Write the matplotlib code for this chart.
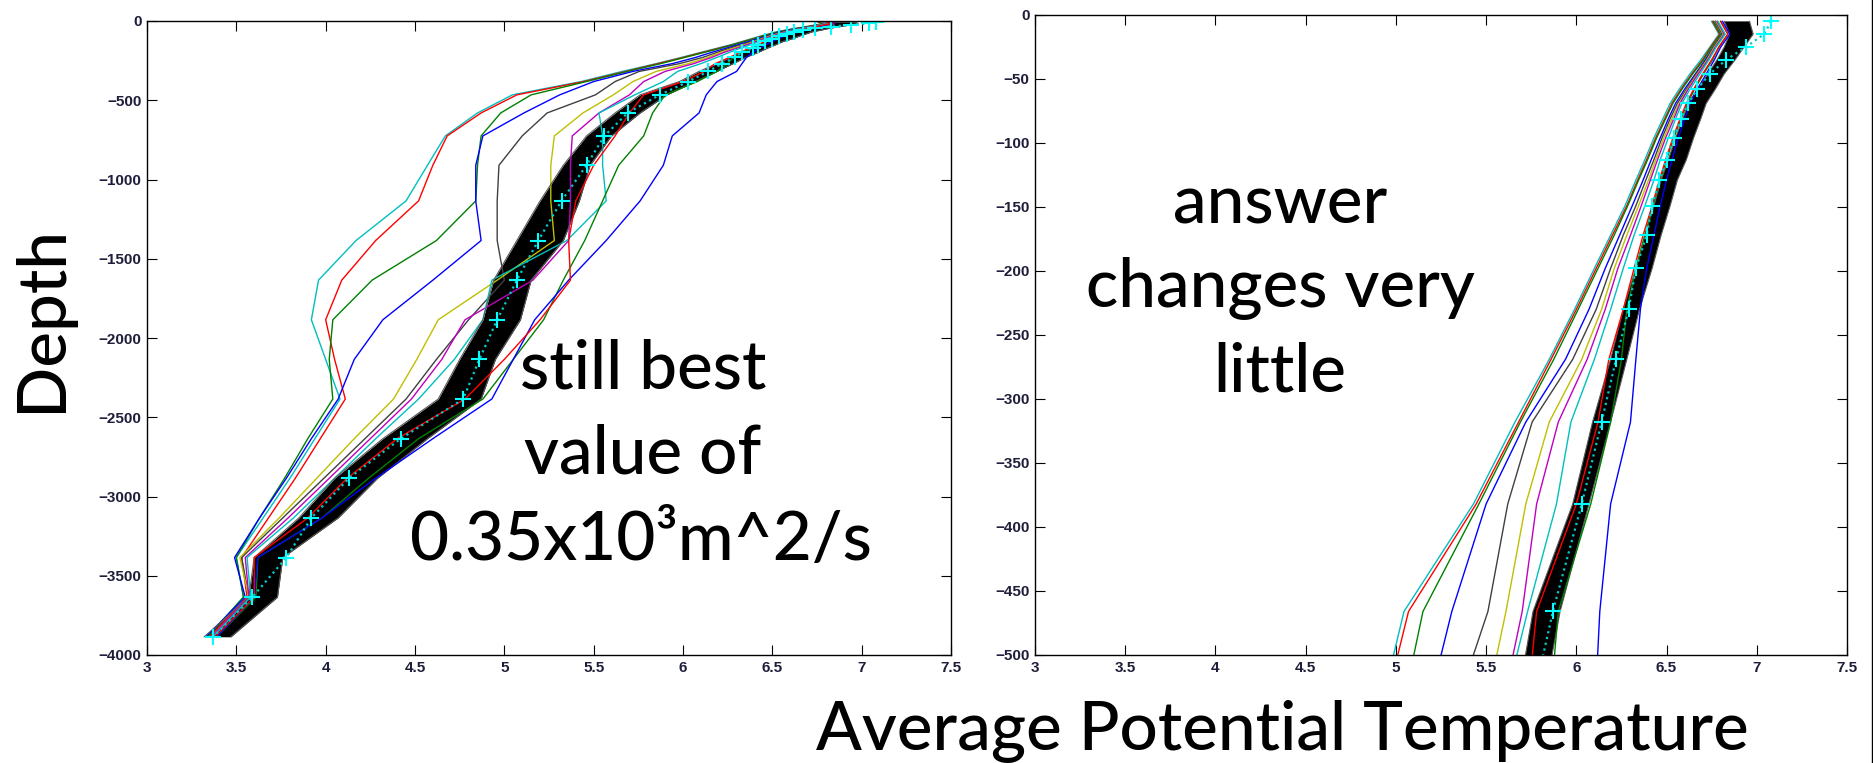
import numpy as np
import matplotlib
matplotlib.use('Agg')
import matplotlib.pyplot as plt
from matplotlib.lines import Line2D

# model levels (m, positive down)
depth = [5, 15, 25, 35, 46, 58, 69, 81, 96, 113, 129, 149, 172, 198, 230, 269, 318,
         382, 466, 580, 725, 910, 1135, 1385, 1635, 1885, 2135, 2385, 2635, 2885,
         3135, 3385, 3635, 3885]

# observed profile (cyan +)
obs = [7.08, 7.04, 6.94, 6.83, 6.74, 6.67, 6.62, 6.58, 6.54, 6.50, 6.46, 6.42, 6.39,
       6.33, 6.29, 6.22, 6.14, 6.03, 5.87, 5.69, 5.56, 5.46, 5.32, 5.19, 5.07, 4.96,
       4.86, 4.77, 4.42, 4.13, 3.92, 3.78, 3.59, 3.37]

# edges of the dense black ensemble
bundle_lo = [6.82, 6.85, 6.82, 6.78, 6.73, 6.67, 6.62, 6.59, 6.55, 6.51, 6.47, 6.43,
             6.38, 6.33, 6.26, 6.19, 6.09, 5.98, 5.76, 5.62, 5.46, 5.33, 5.20, 5.07,
             4.94, 4.88, 4.75, 4.63, 4.32, 4.05, 3.85, 3.60, 3.57, 3.32]
bundle_hi = [6.96, 6.98, 6.93, 6.88, 6.82, 6.77, 6.72, 6.69, 6.65, 6.61, 6.56, 6.52,
             6.47, 6.42, 6.35, 6.28, 6.19, 6.07, 5.91, 5.76, 5.60, 5.48, 5.42, 5.33,
             5.15, 5.09, 4.95, 4.87, 4.57, 4.29, 4.07, 3.76, 3.73, 3.47]

# individual coloured runs
cyan1 = [6.75, 6.79, 6.74, 6.69, 6.63, 6.57, 6.52, 6.48, 6.43, 6.38, 6.33, 6.27, 6.19,
         6.10, 5.99, 5.85, 5.66, 5.43, 5.045, 4.85, 4.67, 4.57, 4.45, 4.17, 3.96, 3.92,
         4.00, 4.08, 3.94, 3.80, 3.65, 3.50, 3.54, 3.34]
red1 = [6.755, 6.795, 6.745, 6.70, 6.64, 6.58, 6.53, 6.49, 6.44, 6.39, 6.34, 6.28, 6.20,
        6.11, 6.00, 5.86, 5.68, 5.445, 5.07, 4.87, 4.68, 4.60, 4.52, 4.28, 4.09, 4.00,
        4.05, 4.11, 3.97, 3.83, 3.68, 3.53, 3.56, 3.35]
green1 = [6.76, 6.80, 6.75, 6.705, 6.645, 6.585, 6.535, 6.495, 6.445, 6.395, 6.345,
          6.285, 6.21, 6.12, 6.01, 5.875, 5.69, 5.46, 5.15, 4.98, 4.87, 4.85, 4.84,
          4.62, 4.26, 4.04, 4.02, 4.04, 3.90, 3.77, 3.63, 3.50, 3.54, 3.34]
blue1 = [6.77, 6.81, 6.76, 6.715, 6.66, 6.60, 6.55, 6.51, 6.465, 6.415, 6.37, 6.31, 6.24,
         6.16, 6.07, 5.94, 5.72, 5.50, 5.31, 5.11, 4.88, 4.84, 4.84, 4.87, 4.60, 4.32,
         4.16, 4.07, 3.92, 3.78, 3.63, 3.49, 3.55, 3.33]
gray1 = [6.77, 6.81, 6.76, 6.72, 6.665, 6.61, 6.56, 6.52, 6.475, 6.43, 6.385, 6.33, 6.26,
         6.19, 6.11, 5.98, 5.755, 5.62, 5.51, 5.24, 5.10, 4.97, 4.96, 4.96, 5.00, 4.80,
         4.62, 4.45, 4.22, 3.99, 3.76, 3.53, 3.57, 3.36]
yellow1 = [6.775, 6.815, 6.765, 6.725, 6.67, 6.615, 6.57, 6.53, 6.485, 6.44, 6.40, 6.345,
           6.28, 6.21, 6.14, 6.03, 5.85, 5.72, 5.61, 5.44, 5.28, 5.26, 5.26, 5.28, 4.96,
           4.63, 4.51, 4.38, 4.16, 3.95, 3.74, 3.52, 3.57, 3.36]
magenta1 = [6.78, 6.82, 6.77, 6.73, 6.675, 6.62, 6.575, 6.54, 6.495, 6.45, 6.41, 6.36,
            6.30, 6.23, 6.16, 6.06, 5.90, 5.78, 5.70, 5.53, 5.38, 5.37, 5.37, 5.36, 5.16,
            4.78, 4.65, 4.48, 4.25, 4.02, 3.79, 3.55, 3.57, 3.36]
cyan2 = [6.785, 6.825, 6.775, 6.735, 6.685, 6.63, 6.585, 6.55, 6.51, 6.465, 6.43, 6.38,
         6.32, 6.26, 6.19, 6.10, 5.97, 5.89, 5.73, 5.53, 5.55, 5.55, 5.57, 5.35, 4.93,
         4.88, 4.72, 4.52, 4.28, 4.05, 3.82, 3.56, 3.58, 3.37]
red2 = [6.80, 6.84, 6.79, 6.75, 6.70, 6.65, 6.61, 6.575, 6.535, 6.495, 6.46, 6.42, 6.37,
        6.32, 6.26, 6.18, 6.12, 6.00, 5.78, 5.70, 5.62, 5.50, 5.40, 5.36, 5.37, 5.20,
        5.00, 4.78, 4.40, 4.12, 3.90, 3.60, 3.60, 3.38]
green2 = [6.80, 6.84, 6.79, 6.755, 6.705, 6.655, 6.615, 6.58, 6.54, 6.50, 6.465, 6.425,
          6.38, 6.33, 6.28, 6.25, 6.19, 6.08, 5.90, 5.83, 5.78, 5.64, 5.55, 5.45, 5.33,
          5.22, 5.05, 4.88, 4.52, 4.24, 3.98, 3.62, 3.61, 3.39]
blue2 = [6.81, 6.85, 6.80, 6.765, 6.72, 6.67, 6.63, 6.60, 6.565, 6.53, 6.50, 6.465, 6.43,
         6.39, 6.355, 6.33, 6.30, 6.19, 6.13, 6.09, 5.94, 5.89, 5.76, 5.57, 5.36, 5.17,
         5.05, 4.93, 4.60, 4.28, 3.98, 3.62, 3.60, 3.39]

C_B = (0, 0, 1)
C_G = (0, 0.5, 0)
C_R = (1, 0, 0)
C_C = (0, 0.75, 0.75)
C_M = (0.75, 0, 0.75)
C_Y = (0.75, 0.75, 0)
C_K = (0.25, 0.25, 0.25)

under = [(cyan1, C_C), (red1, C_R), (green1, C_G), (blue1, C_B), (gray1, C_K),
         (yellow1, C_Y), (magenta1, C_M), (cyan2, C_C)]
over = [(green2, C_G), (blue2, C_B), (red2, C_R)]

W, H = 1874, 763
fig = plt.figure(figsize=(W / 100, H / 100), dpi=100)


def box(x0, y0, x1, y1):
    return [x0 / W, 1 - y1 / H, (x1 - x0) / W, (y1 - y0) / H]


ax1 = fig.add_axes(box(147, 21, 951, 655))
ax2 = fig.add_axes(box(1035, 15, 1847, 655))

z = -np.array(depth)
for ax in (ax1, ax2):
    for vals, col in under:
        ax.plot(vals, z, color=col, lw=1.0)
    ax.fill_betweenx(z, bundle_lo, bundle_hi, color='black', lw=0)
    ax.plot(bundle_lo, z, color='0.35', lw=0.8)
    ax.plot(bundle_hi, z, color='0.35', lw=0.8)
    for vals, col in over:
        ax.plot(vals, z, color=col, lw=1.0)
    ax.plot(obs, z, color=(0, 0.8, 0.8), ls=':', lw=1.6)
    ax.plot(obs, z, ls='none', marker='+', ms=11, mew=1.5, color=(0, 1, 1))
    ax.set_xlim(3, 7.5)
    ax.set_xticks(np.arange(3, 7.51, 0.5))
    ax.set_xticklabels(['3', '3.5', '4', '4.5', '5', '5.5', '6', '6.5', '7', '7.5'])
    ax.tick_params(direction='in', length=7, width=0.8, top=True, right=True,
                   labelsize=11, pad=4, labelcolor='#1e1e3a')
    for s in ax.spines.values():
        s.set_linewidth(1.0)

ax1.set_ylim(-4000, 0)
ax1.set_yticks(np.arange(-4000, 1, 500))
ax2.set_ylim(-500, 0)
ax2.set_yticks(np.arange(-500, 1, 50))
for ax in (ax1, ax2):
    for lab in ax.get_xticklabels() + ax.get_yticklabels():
        lab.set_family('Liberation Sans')
        lab.set_fontweight('bold')


def say(x, y, s, **kw):
    fig.text(x / W, 1 - y / H, s, family='Lato', fontsize=48.5, fontweight='medium',
             color='black', **kw)


say(42, 318, 'Depth', rotation=90, ha='center', va='center')
say(643, 389, 'still best', ha='center', va='baseline')
say(643, 474, 'value of', ha='center', va='baseline')
say(641, 560, '0.35x10³m^2/s', ha='center', va='baseline')
say(1280, 224, 'answer', ha='center', va='baseline')
say(1280, 307, 'changes very', ha='center', va='baseline')
say(1280, 392, 'little', ha='center', va='baseline')
say(1282, 750, 'Average Potential Temperature', ha='center', va='baseline')

fig.add_artist(Line2D([1872 / W, 1872 / W], [0, 1], color='black', lw=1.0))

fig.savefig('out.png', dpi=100)
